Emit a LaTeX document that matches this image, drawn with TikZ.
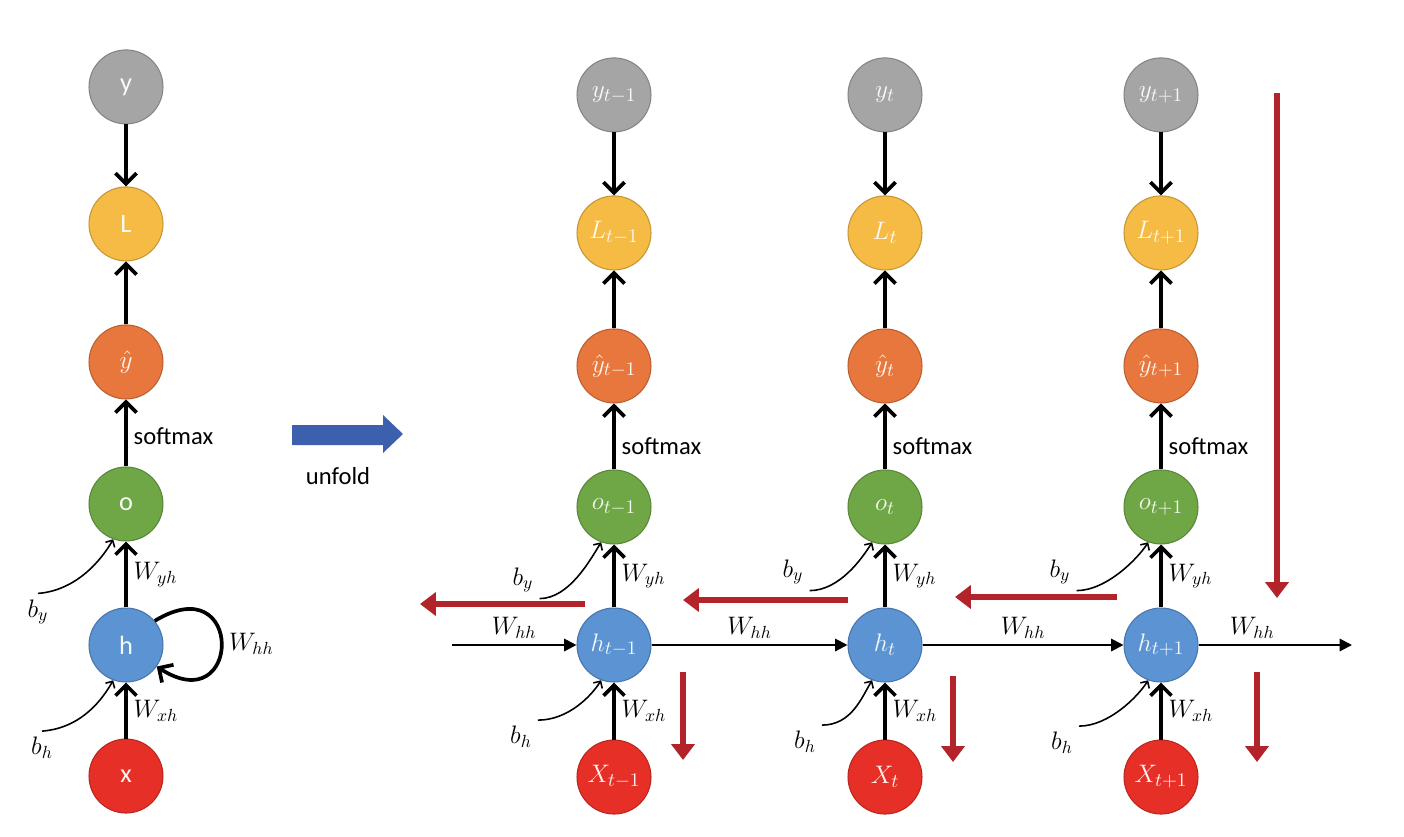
\documentclass[tikz,border=0pt]{standalone}
\usepackage{fontspec}
\setsansfont{Carlito}
\usepackage{tikz}
\usetikzlibrary{arrows.meta,positioning}

\definecolor{ygray}{HTML}{A5A5A5}
\definecolor{lgold}{HTML}{F5BB45}
\definecolor{yorange}{HTML}{E8773D}
\definecolor{ogreen}{HTML}{6FA746}
\definecolor{hblue}{HTML}{5B93D3}
\definecolor{xred}{HTML}{E63027}
\definecolor{backred}{HTML}{B3232A}
\definecolor{ublue}{HTML}{3C5FAE}

\begin{document}
\begin{tikzpicture}[x=0.02cm, y=-0.02cm, node distance=1.26cm,
    every node/.style={font=\fontsize{14}{16}\selectfont},
    cell/.style={circle, minimum size=1.48cm, inner sep=0pt, draw=#1!80!black, line width=0.6pt, fill=#1, text=white!94!#1, font=\fontsize{15}{17}\selectfont},
    fwd/.style={line width=2.1pt, -{Straight Barb[length=6pt,width=12pt]}},
    flow/.style={line width=1.2pt, -{Triangle[length=7pt,width=7pt]}},
    bias/.style={line width=0.9pt, -{Straight Barb[length=3pt,width=6pt]}},
    back/.style={draw=backred, line width=3.3pt, -{Triangle[length=9pt,width=13pt]}},
    lbl/.style={font=\sffamily\fontsize{14}{16}\selectfont}]
  \useasboundingbox (0,0) rectangle (1404,836);

  % folded network
  \node[cell=hblue] (h) at (126,645) {\sffamily h};
  \node[cell=ogreen, above=1.32cm of h] (o) {\sffamily o};
  \node[cell=yorange, above=1.34cm of o] (yh) {$\hat{y}$};
  \node[cell=lgold, above=1.26cm of yh] (L) {\sffamily L};
  \node[cell=ygray, above=1.24cm of L] (y) {\sffamily y};
  \node[cell=xred, below=1.12cm of h] (x) {\sffamily x};

  \draw[fwd] (y) -- (L);
  \draw[fwd] (yh) -- (L);
  \draw[fwd] (o) -- node[right, lbl, pos=0.45] {softmax} (yh);
  \draw[fwd] (h) -- node[right] {$W_{yh}$} (o);
  \draw[fwd] (x) -- node[right] {$W_{xh}$} (h);
  \draw[fwd] (h.40) .. controls +(90,-55) and +(85,55) .. node[right] {$W_{hh}$} (h.-35);

  \node (by) at (38,612) {$b_y$};
  \node (bh) at (42,748) {$b_h$};
  \draw[bias] (by.north) .. controls +(40,-3) and +(-10,18) .. (o.250);
  \draw[bias] (bh.north) .. controls +(40,-3) and +(-10,18) .. (h.250);

  % unfold arrow
  \fill[ublue] (292,425) -- (383,425) -- (383,415) -- (403,434) -- (383,453) -- (383,445) -- (292,445) -- cycle;
  \node[lbl] (unfold) at (338,476) {unfold};

  % unfolded network
  \node[cell=hblue] (h1) at (614,645) {$h_{t-1}$};
  \node[cell=ogreen, above=of h1] (o1) {$o_{t-1}$};
  \node[cell=yorange, above=1.32cm of o1] (yh1) {$\hat{y}_{t-1}$};
  \node[cell=lgold, above=1.16cm of yh1] (L1) {$L_{t-1}$};
  \node[cell=ygray, above=of L1] (y1) {$y_{t-1}$};
  \node[cell=xred, below=1.14cm of h1] (x1) {$X_{t-1}$};

  \node[cell=hblue] (h2) at (885,645) {$h_{t}$};
  \node[cell=ogreen, above=of h2] (o2) {$o_{t}$};
  \node[cell=yorange, above=1.32cm of o2] (yh2) {$\hat{y}_{t}$};
  \node[cell=lgold, above=1.16cm of yh2] (L2) {$L_{t}$};
  \node[cell=ygray, above=of L2] (y2) {$y_{t}$};
  \node[cell=xred, below=1.14cm of h2] (x2) {$X_{t}$};

  \node[cell=hblue] (h3) at (1161,645) {$h_{t+1}$};
  \node[cell=ogreen, above=of h3] (o3) {$o_{t+1}$};
  \node[cell=yorange, above=1.32cm of o3] (yh3) {$\hat{y}_{t+1}$};
  \node[cell=lgold, above=1.16cm of yh3] (L3) {$L_{t+1}$};
  \node[cell=ygray, above=of L3] (y3) {$y_{t+1}$};
  \node[cell=xred, below=1.14cm of h3] (x3) {$X_{t+1}$};

  \draw[fwd] (y1) -- (L1);
  \draw[fwd] (yh1) -- (L1);
  \draw[fwd] (o1) -- node[right, lbl, pos=0.35] {softmax} (yh1);
  \draw[fwd] (h1) -- node[right] {$W_{yh}$} (o1);
  \draw[fwd] (x1) -- node[right] {$W_{xh}$} (h1);

  \draw[fwd] (y2) -- (L2);
  \draw[fwd] (yh2) -- (L2);
  \draw[fwd] (o2) -- node[right, lbl, pos=0.35] {softmax} (yh2);
  \draw[fwd] (h2) -- node[right] {$W_{yh}$} (o2);
  \draw[fwd] (x2) -- node[right] {$W_{xh}$} (h2);

  \draw[fwd] (y3) -- (L3);
  \draw[fwd] (yh3) -- (L3);
  \draw[fwd] (o3) -- node[right, lbl, pos=0.35] {softmax} (yh3);
  \draw[fwd] (h3) -- node[right] {$W_{yh}$} (o3);
  \draw[fwd] (x3) -- node[right] {$W_{xh}$} (h3);

  % recurrence
  \coordinate (hin) at (452,645);
  \coordinate (hout) at (1352,645);
  \draw[flow] (hin) -- node[above] {$W_{hh}$} (h1);
  \draw[flow] (h1) -- node[above] {$W_{hh}$} (h2);
  \draw[flow] (h2) -- node[above] {$W_{hh}$} (h3);
  \draw[flow] (h3) -- node[above, pos=0.35] {$W_{hh}$} (hout);

  % biases
  \node (by1) at (523,580) {$b_y$};
  \node (bh1) at (521,737) {$b_h$};
  \draw[bias] (by1.south east) .. controls +(30,0) and +(-10,16) .. (o1.250);
  \draw[bias] (bh1.north east) .. controls +(30,0) and +(-10,16) .. (h1.250);
  \node (by2) at (793,572) {$b_y$};
  \node (bh2) at (805,742) {$b_h$};
  \draw[bias] (by2.south east) .. controls +(30,0) and +(-10,16) .. (o2.250);
  \draw[bias] (bh2.north east) .. controls +(30,0) and +(-10,16) .. (h2.250);
  \node (by3) at (1060,572) {$b_y$};
  \node (bh3) at (1062,743) {$b_h$};
  \draw[bias] (by3.south east) .. controls +(30,0) and +(-10,16) .. (o3.250);
  \draw[bias] (bh3.north east) .. controls +(30,0) and +(-10,16) .. (h3.250);

  % backpropagation
  \coordinate (r0a) at (1277,93);  \coordinate (r0b) at (1277,598);
  \coordinate (r1a) at (585,604);  \coordinate (r1b) at (420,604);
  \coordinate (r2a) at (848,600);  \coordinate (r2b) at (683,600);
  \coordinate (r3a) at (1117,597); \coordinate (r3b) at (955,597);
  \coordinate (d1a) at (683,672);  \coordinate (d1b) at (683,760);
  \coordinate (d2a) at (953,676);  \coordinate (d2b) at (953,762);
  \coordinate (d3a) at (1257,672); \coordinate (d3b) at (1257,762);
  \draw[back] (r0a) -- (r0b);
  \draw[back] (r1a) -- (r1b);
  \draw[back] (r2a) -- (r2b);
  \draw[back] (r3a) -- (r3b);
  \draw[back] (d1a) -- (d1b);
  \draw[back] (d2a) -- (d2b);
  \draw[back] (d3a) -- (d3b);
\end{tikzpicture}
\end{document}
